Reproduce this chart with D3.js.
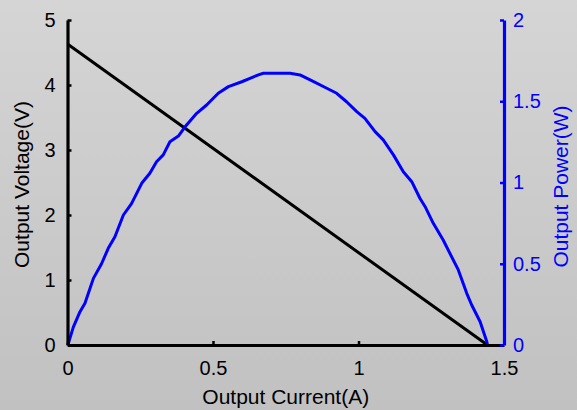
<!DOCTYPE html>
<html><head><meta charset="utf-8">
<script src="https://cdn.jsdelivr.net/npm/d3@7"></script>
<style>
html,body{margin:0;padding:0;overflow:hidden;}
svg{display:block;}
text{font-family:"Liberation Sans",Arial,sans-serif;}
</style></head>
<body>
<script>
// ---- data ----
const voltageCurrent = [0, 1.443];
const voltageValues = [4.63, 0];
const powerCurrent = [0, 0.003, 0.02, 0.043, 0.06, 0.089, 0.117, 0.14, 0.163, 0.192, 0.22, 0.255, 0.283, 0.306, 0.329, 0.352, 0.381, 0.404, 0.444, 0.478, 0.518, 0.553, 0.599, 0.627, 0.656, 0.673, 0.72, 0.765, 0.799, 0.839, 0.891, 0.925, 0.959, 0.994, 1.022, 1.057, 1.085, 1.12, 1.154, 1.183, 1.211, 1.229, 1.257, 1.291, 1.32, 1.343, 1.372, 1.389, 1.418, 1.441, 1.443];
const powerValues = [0, 0.01, 0.11, 0.205, 0.257, 0.41, 0.5, 0.595, 0.666, 0.8, 0.87, 0.995, 1.057, 1.128, 1.17, 1.251, 1.286, 1.343, 1.426, 1.477, 1.549, 1.59, 1.62, 1.641, 1.662, 1.672, 1.673, 1.672, 1.662, 1.627, 1.58, 1.549, 1.497, 1.436, 1.395, 1.313, 1.262, 1.17, 1.066, 1.005, 0.903, 0.851, 0.749, 0.646, 0.543, 0.462, 0.318, 0.246, 0.143, 0.02, 0];
const xTicks = [0, 0.5, 1, 1.5];
const yLeftTicks = [0, 1, 2, 3, 4, 5];
const yRightTicks = [0, 0.5, 1, 1.5, 2];
const xTitle = "Output Current(A)";
const yLeftTitle = "Output Voltage(V)";
const yRightTitle = "Output Power(W)";

// ---- layout ----
const W = 577, H = 410;
const L = 67.5, R = 504, T = 20, B = 345;
const svg = d3.select("body").append("svg").attr("width", W).attr("height", H);
const defs = svg.append("defs");
const grad = defs.append("linearGradient").attr("id", "bg").attr("x1", 0).attr("y1", 0).attr("x2", 0).attr("y2", 1);
grad.append("stop").attr("offset", "0%").attr("stop-color", "#d5d5d5");
grad.append("stop").attr("offset", "100%").attr("stop-color", "#c1c1c1");
svg.append("rect").attr("width", W).attr("height", H).attr("fill", "url(#bg)");

const x = d3.scaleLinear().domain([0, 1.5]).range([L, R]);
const yL = d3.scaleLinear().domain([0, 5]).range([B, T]);
const yR = d3.scaleLinear().domain([0, 2]).range([B, T]);

const fs = 20;

// data lines
const vLine = d3.line().x(d => x(d[0])).y(d => yL(d[1]));
svg.append("path").datum(d3.zip(voltageCurrent, voltageValues))
  .attr("d", vLine).attr("fill", "none").attr("stroke", "#000").attr("stroke-width", 3);
const pLine = d3.line().x(d => x(d[0])).y(d => yR(d[1])).curve(d3.curveLinear);
svg.append("path").datum(d3.zip(powerCurrent, powerValues))
  .attr("d", pLine).attr("fill", "none").attr("stroke", "#0000ff").attr("stroke-width", 3)
  .attr("stroke-linejoin", "round");

// x axis
const xAxis = svg.append("g").attr("transform", `translate(0,${B})`)
  .call(d3.axisBottom(x).tickValues(xTicks).tickFormat(d3.format("")).tickSizeInner(-4).tickSizeOuter(0).tickPadding(16));
xAxis.select(".domain").attr("stroke", "#000").attr("stroke-width", 3.2);
xAxis.selectAll(".tick line").attr("stroke", "#000").attr("stroke-width", 2.5);
xAxis.selectAll(".tick text").attr("font-size", fs).attr("fill", "#000").attr("font-family", "Liberation Sans, Arial, sans-serif");

// left axis
const lAxis = svg.append("g").attr("transform", `translate(${L},0)`)
  .call(d3.axisLeft(yL).tickValues(yLeftTicks).tickFormat(d3.format("")).tickSizeInner(-4).tickSizeOuter(0).tickPadding(12));
lAxis.select(".domain").attr("stroke", "#000").attr("stroke-width", 3.2);
lAxis.selectAll(".tick line").attr("stroke", "#000").attr("stroke-width", 2.5);
lAxis.selectAll(".tick text").attr("font-size", fs).attr("fill", "#000").attr("font-family", "Liberation Sans, Arial, sans-serif");

// right axis
const rAxis = svg.append("g").attr("transform", `translate(${R},0)`)
  .call(d3.axisRight(yR).tickValues(yRightTicks).tickFormat(d3.format("")).tickSizeInner(-4).tickSizeOuter(0).tickPadding(9));
rAxis.select(".domain").attr("stroke", "#0000ff").attr("stroke-width", 3.2);
rAxis.selectAll(".tick line").attr("stroke", "#0000ff").attr("stroke-width", 2.5);
rAxis.selectAll(".tick text").attr("font-size", fs).attr("fill", "#0000ff").attr("font-family", "Liberation Sans, Arial, sans-serif");

// titles
svg.append("text").attr("x", (L + R) / 2).attr("y", 404).attr("text-anchor", "middle")
  .attr("font-size", fs + 1).attr("fill", "#000").text(xTitle);
svg.append("text").attr("transform", `translate(29,${(T + B) / 2 + 2}) rotate(-90)`).attr("text-anchor", "middle")
  .attr("font-size", fs + 1).attr("fill", "#000").text(yLeftTitle);
svg.append("text").attr("transform", `translate(568,${(T + B) / 2 + 4}) rotate(-90)`).attr("text-anchor", "middle")
  .attr("font-size", fs + 1).attr("fill", "#0000ff").text(yRightTitle);
</script>
</body></html>
